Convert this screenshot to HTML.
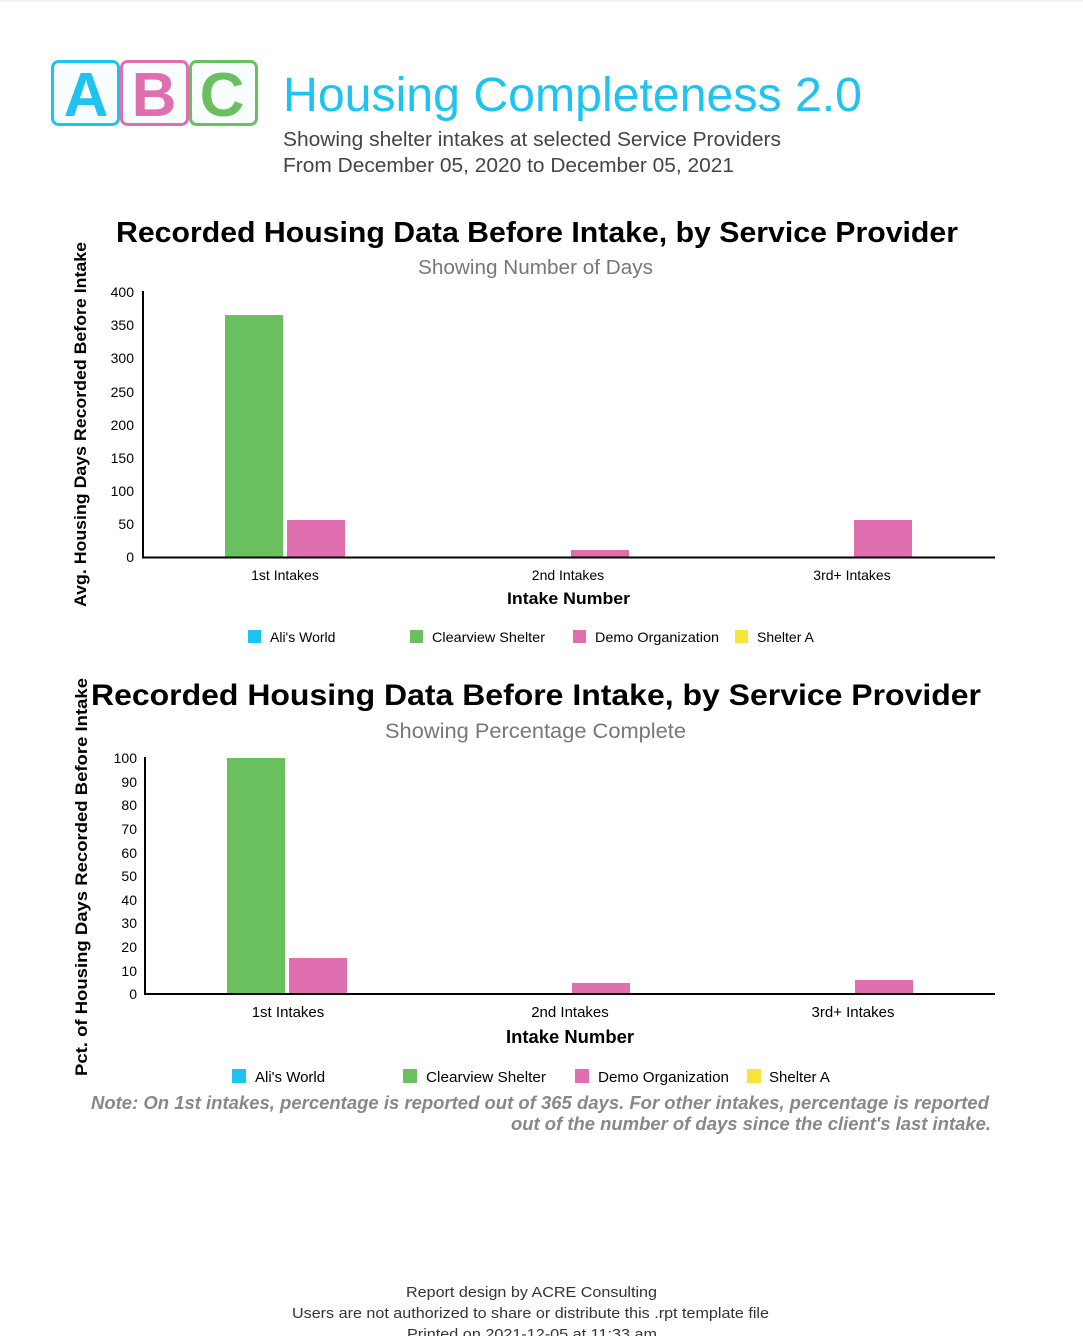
<!DOCTYPE html>
<html><head><meta charset="utf-8"><style>
body{margin:0;width:1083px;height:1336px;background:#fff;position:relative;overflow:hidden;font-family:"Liberation Sans",sans-serif;}
.a{position:absolute;white-space:nowrap;}
svg text{font-family:"Liberation Sans",sans-serif;}
</style></head><body>
<div style="position:absolute;top:0;left:0;width:1083px;height:2px;background:#f3f3f3"></div>
<svg class="a" style="left:0;top:0" width="1083" height="1336">
<g font-family="Liberation Serif" font-weight="bold" font-size="62" text-anchor="middle">
<rect x="52.5" y="61.5" width="66" height="63" rx="6" fill="#f8feff" stroke="#1ec3ef" stroke-width="3"/>
<text x="86" y="116" fill="#1ec3ef" font-family="Liberation Sans">A</text>
<rect x="121.5" y="61.5" width="66" height="63" rx="6" fill="#f8feff" stroke="#e06fb0" stroke-width="3"/>
<text x="154" y="116" fill="#e06fb0">B</text>
<rect x="190.5" y="61.5" width="66" height="63" rx="6" fill="#f8feff" stroke="#6abf5f" stroke-width="3"/>
<text x="222" y="116" fill="#6abf5f" font-family="Liberation Sans">C</text>
</g>
<g lengthAdjust="spacingAndGlyphs">
<text x="283" y="111" font-size="48" fill="#1ec3ef" textLength="579" lengthAdjust="spacingAndGlyphs">Housing Completeness 2.0</text>
<text x="283" y="146" font-size="20" fill="#444" textLength="498" lengthAdjust="spacingAndGlyphs">Showing shelter intakes at selected Service Providers</text>
<text x="283" y="172" font-size="20" fill="#444" textLength="451" lengthAdjust="spacingAndGlyphs">From December 05, 2020 to December 05, 2021</text>

<text x="116" y="242" font-size="29" font-weight="bold" fill="#000" textLength="842" lengthAdjust="spacingAndGlyphs">Recorded Housing Data Before Intake, by Service Provider</text>
<text x="418" y="274" font-size="20" fill="#777" textLength="235" lengthAdjust="spacingAndGlyphs">Showing Number of Days</text>
<text transform="translate(86,607) rotate(-90)" font-size="17" font-weight="bold" textLength="365" lengthAdjust="spacingAndGlyphs">Avg. Housing Days Recorded Before Intake</text>
</g>
<g font-size="14" text-anchor="end">
<text x="134" y="297">400</text><text x="134" y="330">350</text><text x="134" y="363">300</text><text x="134" y="397">250</text><text x="134" y="430">200</text><text x="134" y="463">150</text><text x="134" y="496">100</text><text x="134" y="529">50</text><text x="134" y="562">0</text>
</g>
<rect x="225" y="315" width="58" height="242" fill="#6abf5f"/>
<rect x="287" y="520" width="58" height="37" fill="#e06fb0"/>
<rect x="571" y="550" width="58" height="7" fill="#e06fb0"/>
<rect x="854" y="520" width="58" height="37" fill="#e06fb0"/>
<path d="M143 291V557.5H995" fill="none" stroke="#000" stroke-width="2"/>
<g font-size="14" text-anchor="middle">
<text x="285" y="580">1st Intakes</text><text x="568" y="580">2nd Intakes</text><text x="852" y="580">3rd+ Intakes</text>
</g>
<text x="507" y="604" font-size="17" font-weight="bold" textLength="123" lengthAdjust="spacingAndGlyphs">Intake Number</text>
<g font-size="14">
<rect x="248" y="630" width="13" height="13" fill="#1ec3ef"/><text x="270" y="642">Ali's World</text>
<rect x="410" y="630" width="13" height="13" fill="#6abf5f"/><text x="432" y="642" textLength="113" lengthAdjust="spacingAndGlyphs">Clearview Shelter</text>
<rect x="573" y="630" width="13" height="13" fill="#e06fb0"/><text x="595" y="642" textLength="124" lengthAdjust="spacingAndGlyphs">Demo Organization</text>
<rect x="735" y="630" width="13" height="13" fill="#f7e53b"/><text x="757" y="642">Shelter A</text>
</g>

<text x="91" y="705" font-size="30" font-weight="bold" textLength="890" lengthAdjust="spacingAndGlyphs">Recorded Housing Data Before Intake, by Service Provider</text>
<text x="385" y="738" font-size="21" fill="#777" textLength="301" lengthAdjust="spacingAndGlyphs">Showing Percentage Complete</text>
<text transform="translate(87,1076) rotate(-90)" font-size="17" font-weight="bold" textLength="398" lengthAdjust="spacingAndGlyphs">Pct. of Housing Days Recorded Before Intake</text>
<g font-size="14" text-anchor="end">
<text x="137" y="763">100</text><text x="137" y="787">90</text><text x="137" y="810">80</text><text x="137" y="834">70</text><text x="137" y="858">60</text><text x="137" y="881">50</text><text x="137" y="905">40</text><text x="137" y="928">30</text><text x="137" y="952">20</text><text x="137" y="976">10</text><text x="137" y="999">0</text>
</g>
<rect x="227" y="758" width="58" height="236" fill="#6abf5f"/>
<rect x="289" y="958" width="58" height="36" fill="#e06fb0"/>
<rect x="572" y="983" width="58" height="11" fill="#e06fb0"/>
<rect x="855" y="980" width="58" height="14" fill="#e06fb0"/>
<path d="M145 757V994H995" fill="none" stroke="#000" stroke-width="2"/>
<g font-size="15" text-anchor="middle">
<text x="288" y="1017">1st Intakes</text><text x="570" y="1017">2nd Intakes</text><text x="853" y="1017">3rd+ Intakes</text>
</g>
<text x="506" y="1043" font-size="18" font-weight="bold" textLength="128" lengthAdjust="spacingAndGlyphs">Intake Number</text>
<g font-size="15">
<rect x="232" y="1069" width="14" height="14" fill="#1ec3ef"/><text x="255" y="1082">Ali's World</text>
<rect x="403" y="1069" width="14" height="14" fill="#6abf5f"/><text x="426" y="1082" textLength="120" lengthAdjust="spacingAndGlyphs">Clearview Shelter</text>
<rect x="575" y="1069" width="14" height="14" fill="#e06fb0"/><text x="598" y="1082" textLength="131" lengthAdjust="spacingAndGlyphs">Demo Organization</text>
<rect x="747" y="1069" width="14" height="14" fill="#f7e53b"/><text x="769" y="1082">Shelter A</text>
</g>
<g font-size="18" font-style="italic" font-weight="bold" fill="#888">
<text x="91" y="1109" textLength="898" lengthAdjust="spacingAndGlyphs">Note: On 1st intakes, percentage is reported out of 365 days. For other intakes, percentage is reported</text>
<text x="511" y="1130" textLength="480" lengthAdjust="spacingAndGlyphs">out of the number of days since the client's last intake.</text>
</g>
<g font-size="15" fill="#333">
<text x="406" y="1297" textLength="251" lengthAdjust="spacingAndGlyphs">Report design by ACRE Consulting</text>
<text x="292" y="1318" textLength="477" lengthAdjust="spacingAndGlyphs">Users are not authorized to share or distribute this .rpt template file</text>
<text x="407" y="1339" textLength="250" lengthAdjust="spacingAndGlyphs">Printed on 2021-12-05 at 11:33 am</text>
</g>
</svg>
</body></html>
